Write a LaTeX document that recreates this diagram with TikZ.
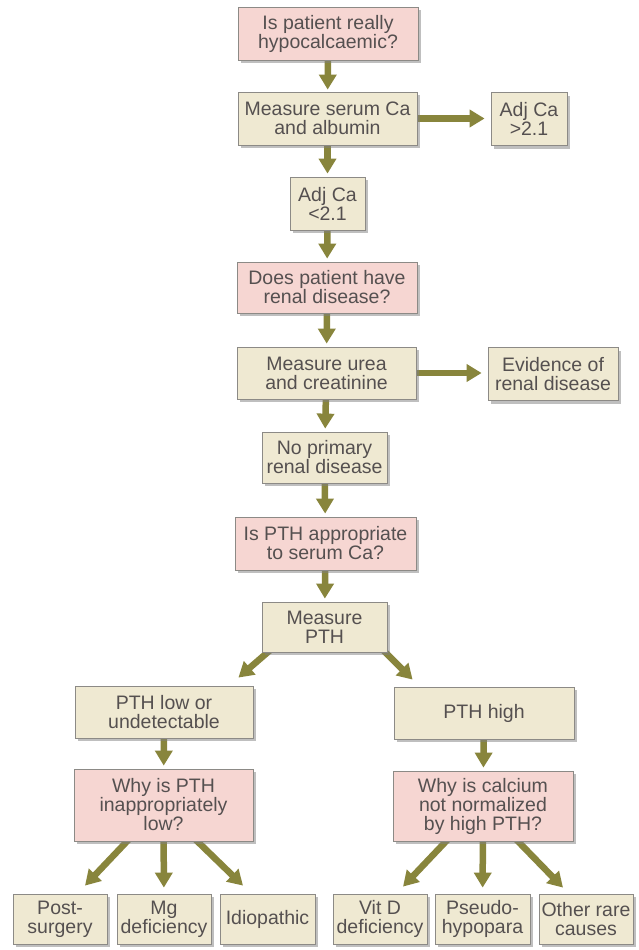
\documentclass[tikz,border=0pt]{standalone}
\usepackage{fontspec}
\setmainfont{Liberation Sans}
\usetikzlibrary{arrows.meta,shadows,calc,backgrounds}
\definecolor{beigefill}{HTML}{EFE9D2}
\definecolor{pinkfill}{HTML}{F6D6D2}
\definecolor{boxline}{HTML}{8C8A86}
\definecolor{txtcol}{HTML}{555050}
\definecolor{olivearr}{HTML}{88853C}
\begin{document}
\begin{tikzpicture}[x=1pt,y=-1pt,
  box/.style={rectangle,draw=boxline,line width=0.8pt,fill=beigefill,text=txtcol,
    align=center,inner sep=0pt,font=\fontsize{19.5}{19}\selectfont,
    drop shadow={shadow xshift=3pt,shadow yshift=-3pt,fill=black!50,opacity=0.5}},
  qbox/.style={box,fill=pinkfill},
  arr/.style={draw=olivearr,line width=6.5pt,-{Triangle[width=17pt,length=15pt]}}]
\useasboundingbox (0,0) rectangle (638,950);

\node[qbox,minimum width=180pt,minimum height=53pt] (q1) at (328,33.5) {Is patient really\\hypocalcaemic?};
\node[box,minimum width=179pt,minimum height=53pt] (m1) at (327.5,118.5) {Measure serum Ca\\and albumin};
\node[box,minimum width=76pt,minimum height=53pt] (a1) at (529,119) {Adj Ca\\>2.1};
\node[box,minimum width=75pt,minimum height=53pt] (a2) at (327.5,203.5) {Adj Ca\\<2.1};
\node[qbox,minimum width=180pt,minimum height=51pt] (q2) at (327,287.5) {Does patient have\\renal disease?};
\node[box,minimum width=179pt,minimum height=52pt] (m2) at (326.5,373) {Measure urea\\and creatinine};
\node[box,minimum width=130pt,minimum height=53pt] (ev) at (553,374) {Evidence of\\renal disease};
\node[box,minimum width=125pt,minimum height=51pt] (np) at (324.5,457.5) {No primary\\renal disease};
\node[qbox,minimum width=181pt,minimum height=53pt] (q3) at (325.5,543.5) {Is PTH appropriate\\to serum Ca?};
\node[box,minimum width=125pt,minimum height=50pt] (mp) at (324.5,627) {Measure\\PTH};
\node[box,minimum width=178pt,minimum height=52pt] (lo) at (164,712) {PTH low or\\undetectable};
\node[box,minimum width=180pt,minimum height=52pt] (hi) at (484,713) {PTH high};
\node[qbox,minimum width=179pt,minimum height=72pt] (q4) at (163.5,805) {Why is PTH\\inappropriately\\low?};
\node[qbox,minimum width=180pt,minimum height=70pt] (q5) at (483,806) {Why is calcium\\not normalized\\by high PTH?};
\node[box,minimum width=94pt,minimum height=50pt] (b1) at (60,919) {Post-\\surgery};
\node[box,minimum width=94pt,minimum height=50pt] (b2) at (164,919) {Mg\\deficiency};
\node[box,minimum width=95pt,minimum height=50pt] (b3) at (267.5,919) {Idiopathic};
\node[box,minimum width=94pt,minimum height=50pt] (b4) at (380,919) {Vit D\\deficiency};
\node[box,minimum width=95pt,minimum height=50pt] (b5) at (482.5,919) {Pseudo-\\hypopara};
\node[box,minimum width=94pt,minimum height=50pt] (b6) at (586,919) {Other rare\\causes};

\begin{scope}[on background layer]
\fill[white] (0,0) rectangle (638,950);
\draw[arr,shorten >=2pt] (q1) -- (m1);
\draw[arr,shorten >=6pt] (m1.east) -- (a1.west |- m1.east);
\draw[arr,shorten >=3pt] (m1) -- (a2);
\draw[arr,shorten >=3pt] (a2) -- (q2);
\draw[arr,shorten >=3pt] (q2) -- (m2);
\draw[arr,shorten >=6pt] (m2.east) -- (ev.west |- m2.east);
\draw[arr,shorten >=3pt] (m2) -- (np);
\draw[arr,shorten >=3pt] (np) -- (q3);
\draw[arr,shorten >=3pt] (q3) -- (mp);
\draw[arr] ($(mp.south west)+(10.6,-4)$) -- ($(lo.north east)+(-15,-8)$);
\draw[arr] ($(mp.south east)+(-6,-4)$) -- ($(hi.north west)+(19,-7)$);
\draw[arr,shorten >=3pt] (lo) -- (q4);
\draw[arr,shorten >=3pt] (hi) -- (q5);
\draw[arr] ($(q4.south)+(-32.8,-4)$) -- ($(b1.north)+(25,-8)$);
\draw[arr,shorten >=6pt] (q4) -- (b2);
\draw[arr] ($(q4.south)+(29.8,-4)$) -- ($(b3.north)+(-24.5,-8)$);
\draw[arr] ($(q5.south)+(-33.3,-4)$) -- ($(b4.north)+(23,-7)$);
\draw[arr,shorten >=6pt] (q5) -- (b5);
\draw[arr] ($(q5.south)+(31.2,-4)$) -- ($(b6.north)+(-23,-6)$);
\end{scope}
\end{tikzpicture}
\end{document}
